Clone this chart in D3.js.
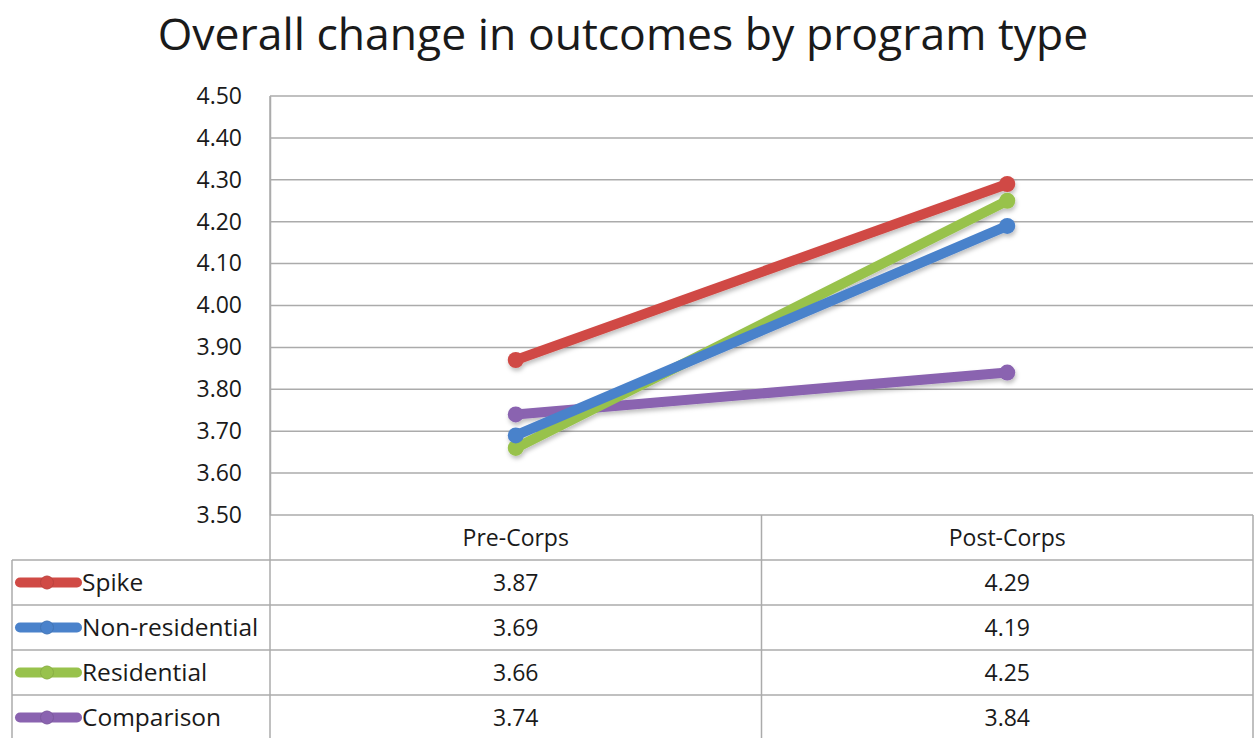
<html>
<head>
<meta charset="utf-8">
<script src="https://d3js.org/d3.v7.min.js"></script>
<style>
    body { margin: 0; background: #fff; }
    text { font-family: "Open Sans", "Noto Sans", sans-serif; fill: #1a1a1a; }
</style>
</head>
<body>
<div id="chart"></div>
<script>
    // data
    var categories = ["Pre-Corps", "Post-Corps"];
    var seriesNames = ["Spike", "Non-residential", "Residential", "Comparison"];
    var seriesColors = ["#d04a45", "#4a82cb", "#98c24c", "#8a63b0"];
    var spike = [3.87, 4.29];
    var nonResidential = [3.69, 4.19];
    var residential = [3.66, 4.25];
    var comparison = [3.74, 3.84];
    var yTicks = [3.5, 3.6, 3.7, 3.8, 3.9, 4.0, 4.1, 4.2, 4.3, 4.4, 4.5];

    var series = [spike, nonResidential, residential, comparison].map(function (vals, i) {
        return { name: seriesNames[i], color: seriesColors[i], values: vals };
    });

    var width = 1256, height = 738;
    var plotLeft = 270, plotRight = 1253, plotTop = 96, plotBottom = 515;
    var rowH = 45, legendLeft = 12;
    var gridColor = "#ababab";
    var fs = "23px";

    var svg = d3.select("#chart").append("svg")
        .attr("width", width)
        .attr("height", height);

    var defs = svg.append("defs");
    var f = defs.append("filter").attr("id", "shadow")
        .attr("x", "-20%").attr("y", "-20%").attr("width", "140%").attr("height", "160%");
    f.append("feDropShadow").attr("dx", 1).attr("dy", 3).attr("stdDeviation", 2)
        .attr("flood-color", "#000").attr("flood-opacity", 0.25);

    // title
    svg.append("text")
        .attr("x", 623).attr("y", 50)
        .attr("text-anchor", "middle")
        .style("font-size", "44.5px")
        .text("Overall change in outcomes by program type");

    var xs = d3.scaleBand().domain(categories).range([plotLeft, plotRight]);
    var ys = d3.scaleLinear().domain([3.5, 4.5]).range([plotBottom, plotTop]);

    // gridlines
    svg.append("g").selectAll("line").data(yTicks).enter().append("line")
        .attr("x1", plotLeft).attr("x2", plotRight)
        .attr("y1", function (d) { return ys(d); })
        .attr("y2", function (d) { return ys(d); })
        .attr("stroke", gridColor).attr("stroke-width", 1.5);

    // y axis
    var yAxis = svg.append("g")
        .attr("transform", "translate(" + plotLeft + ",0)")
        .call(d3.axisLeft(ys).tickValues(yTicks).tickFormat(d3.format(".2f")).tickSize(0).tickPadding(28));
    yAxis.select(".domain").attr("stroke", gridColor).attr("stroke-width", 1.5);
    yAxis.selectAll("text").style("font-size", fs).attr("fill", "#1a1a1a")
        .style("font-family", "'Open Sans', sans-serif");

    // data table
    var tableBottom = plotBottom + rowH * 5 + 10;
    var table = svg.append("g");
    var rowLines = d3.range(1, 5).map(function (i) { return plotBottom + rowH * i; });
    table.selectAll("line.row").data(rowLines).enter().append("line")
        .attr("x1", legendLeft).attr("x2", plotRight)
        .attr("y1", function (d) { return d; }).attr("y2", function (d) { return d; })
        .attr("stroke", gridColor).attr("stroke-width", 1.5);
    [legendLeft, plotLeft, xs("Post-Corps"), plotRight].forEach(function (x, i) {
        table.append("line")
            .attr("x1", x).attr("x2", x)
            .attr("y1", i == 0 ? plotBottom + rowH : (i == 1 ? plotTop : plotBottom))
            .attr("y2", tableBottom)
            .attr("stroke", gridColor).attr("stroke-width", 1.5);
    });

    // header
    table.selectAll("text.head").data(categories).enter().append("text")
        .attr("x", function (d) { return xs(d) + xs.bandwidth() / 2; })
        .attr("y", plotBottom + rowH / 2 + 8)
        .attr("text-anchor", "middle")
        .style("font-size", fs)
        .text(function (d) { return d; });

    // rows
    series.forEach(function (s, i) {
        var cy = plotBottom + rowH * (i + 1) + rowH / 2;
        var g = table.append("g");
        g.append("line")
            .attr("x1", 20).attr("x2", 77)
            .attr("y1", cy).attr("y2", cy)
            .attr("stroke", s.color).attr("stroke-width", 10)
            .attr("stroke-linecap", "round");
        g.append("circle").attr("cx", 47).attr("cy", cy).attr("r", 6.5)
            .attr("fill", s.color).attr("stroke", d3.color(s.color).darker(0.3)).attr("stroke-width", 1);
        g.append("text")
            .attr("x", 82).attr("y", cy + 8)
            .style("font-size", "24.5px")
            .text(s.name);
        g.selectAll("text.val").data(s.values).enter().append("text")
            .attr("x", function (d, j) { return xs(categories[j]) + xs.bandwidth() / 2; })
            .attr("y", cy + 8)
            .attr("text-anchor", "middle")
            .style("font-size", fs)
            .text(function (d) { return d3.format(".2f")(d); });
    });

    // lines
    var line = d3.line()
        .x(function (d, j) { return xs(categories[j]) + xs.bandwidth() / 2; })
        .y(function (d) { return ys(d); });

    var plot = svg.append("g").attr("filter", "url(#shadow)");
    series.slice().reverse().forEach(function (s) {
        plot.append("path")
            .attr("d", line(s.values))
            .attr("fill", "none")
            .attr("stroke", s.color)
            .attr("stroke-width", 10)
            .attr("stroke-linecap", "round");
    });
    series.slice().reverse().forEach(function (s) {
        plot.selectAll(null).data(s.values).enter().append("circle")
            .attr("cx", function (d, j) { return xs(categories[j]) + xs.bandwidth() / 2; })
            .attr("cy", function (d) { return ys(d); })
            .attr("r", 8)
            .attr("fill", s.color);
    });
</script>
</body>
</html>
